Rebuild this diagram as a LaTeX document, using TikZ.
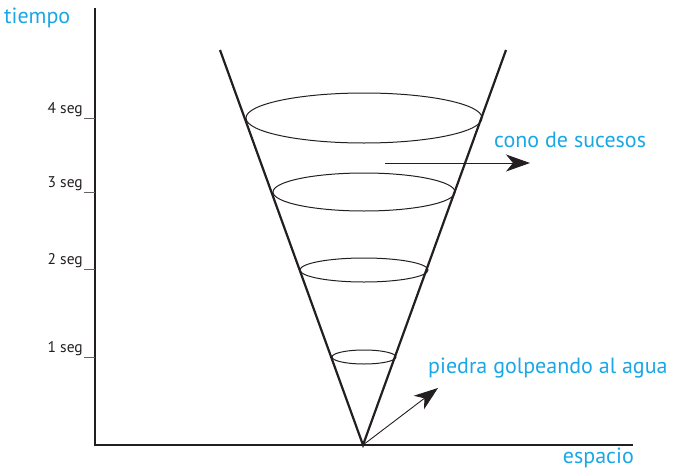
\documentclass[tikz,border=0pt]{standalone}
\usepackage{fontspec}
\setmainfont{PT Sans}
\usepackage{tikz}
\usetikzlibrary{arrows.meta,positioning,shapes.geometric}
\definecolor{conocyan}{HTML}{1AA7E6}
\definecolor{darktext}{HTML}{231F20}
\tikzset{
  axisline/.style={line width=2.2pt,draw=darktext},
  conoline/.style={line width=2.2pt,draw=darktext},
  capa/.style={draw=darktext,line width=1pt},
  tickline/.style={draw=darktext!70,line width=0.8pt},
  seglabel/.style={font=\fontsize{15.5}{18}\selectfont,text=darktext,anchor=south east,inner sep=1pt},
  bluelabel/.style={font=\fontsize{22}{26}\selectfont,text=conocyan,inner sep=0pt},
  thinarrow/.style={-{Stealth[length=24pt,width=17pt,inset=7pt]},line width=0.9pt,draw=darktext}
}

\begin{document}
\begin{tikzpicture}[x=1pt,y=-1pt]
\useasboundingbox (0,0) rectangle (677,471);

% ejes
\coordinate (origen) at (95,445);
\coordinate (ytop) at (95,8);
\coordinate (xend) at (633,445);
\draw[axisline] (ytop) -- (origen) -- (xend);

\node[bluelabel, anchor=west] (tiempo) at (4,18) {tiempo};
\node[bluelabel, anchor=east] (espacio) at (634,458) {espacio};

% cono
\coordinate (apex) at (363,445);
\coordinate (izq) at (220,50);
\coordinate (der) at (506,50);
\draw[conoline] (izq) -- (apex) -- (der);

% capas del cono
\draw[capa] (364,118) ellipse [x radius=118, y radius=25];
\draw[capa] (364,192) ellipse [x radius=91, y radius=19];
\draw[capa] (364,270) ellipse [x radius=64, y radius=12];
\draw[capa] (364,357) ellipse [x radius=32, y radius=7];

% marcas de tiempo
\foreach \t/\yy in {4/118, 3/192, 2/269, 1/357}{
  \coordinate (tick\t) at (84,\yy);
  \draw[tickline] (tick\t) -- (95,\yy);
  \node[seglabel] (seg\t) at (tick\t) {\t{} seg};
}

% etiquetas
\node[bluelabel, anchor=west] (cono) at (494,140) {cono de sucesos};
\coordinate (conoini) at (385,163);
\coordinate (conofin) at (530,163);
\draw[thinarrow] (conoini) -- (conofin);

\node[bluelabel, anchor=west] (piedra) at (428,368) {piedra golpeando al agua};
\coordinate (piedrafin) at (438,388);
\draw[thinarrow] (apex) -- (piedrafin);
\end{tikzpicture}
\end{document}
